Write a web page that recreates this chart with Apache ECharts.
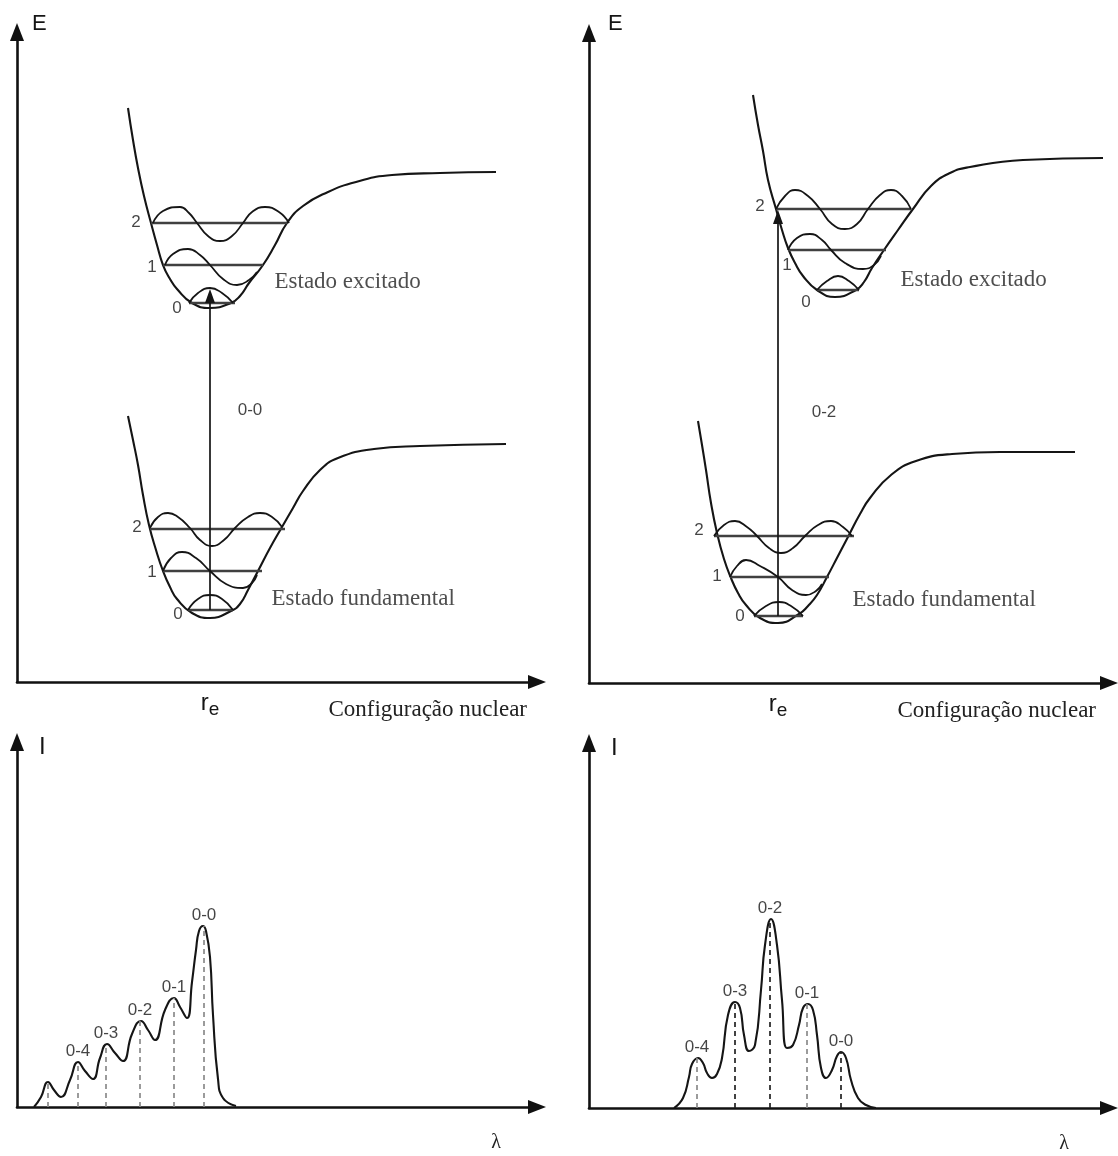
<!DOCTYPE html>
<html><head><meta charset="utf-8">
<script src="https://cdn.jsdelivr.net/npm/echarts@6/dist/echarts.min.js"></script>
<style>html,body{margin:0;padding:0;background:#fff}#chart{width:1118px;height:1156px}</style>
</head><body><div id="chart"></div>
<script>
// ---------- Top-left panel: 0-0 transition (x: nuclear configuration, y: energy) ----------
const tlExcitedCurve = [[1.11,5.74],[1.16,5.42],[1.21,5.14],[1.27,4.86],[1.34,4.59],[1.40,4.37],[1.46,4.17],[1.53,4.03],[1.60,3.93],[1.75,3.79],[1.93,3.74],[2.14,3.79],[2.23,3.86],[2.32,3.99],[2.46,4.17],[2.58,4.37],[2.70,4.59],[2.86,4.76],[3.11,4.90],[3.39,5.00],[3.75,5.07],[4.23,5.09],[4.79,5.10]];
const tlGroundCurve = [[1.11,2.66],[1.16,2.42],[1.21,2.17],[1.26,1.87],[1.32,1.57],[1.39,1.32],[1.46,1.11],[1.53,0.95],[1.60,0.83],[1.75,0.69],[1.93,0.64],[2.14,0.71],[2.23,0.78],[2.31,0.92],[2.41,1.11],[2.53,1.34],[2.65,1.55],[2.76,1.74],[2.86,1.91],[3.03,2.12],[3.21,2.24],[3.57,2.33],[4.03,2.36],[4.89,2.38]];
const tlExcitedLevelE = [3.79, 4.17, 4.59];
const tlExcitedTurnLeft = [1.72, 1.46, 1.34];
const tlExcitedTurnRight = [2.18, 2.46, 2.70];
const tlGroundLevelE = [0.72, 1.11, 1.53];
const tlGroundTurnLeft = [1.71, 1.46, 1.33];
const tlGroundTurnRight = [2.16, 2.45, 2.68];
const tlExcitedPsi0 = [[1.72,3.79],[1.81,3.89],[1.93,3.94],[2.05,3.89],[2.16,3.79]];
const tlExcitedPsi1 = [[1.48,4.17],[1.56,4.28],[1.71,4.33],[1.83,4.27],[1.93,4.17],[2.06,4.03],[2.20,3.97],[2.32,4.02],[2.40,4.10]];
const tlExcitedPsi2 = [[1.36,4.59],[1.46,4.71],[1.63,4.75],[1.72,4.69],[1.80,4.59],[1.91,4.46],[2.03,4.41],[2.15,4.46],[2.26,4.59],[2.35,4.70],[2.48,4.75],[2.62,4.70],[2.72,4.59]];
const tlGroundPsi0 = [[1.71,0.72],[1.81,0.83],[1.93,0.87],[2.05,0.83],[2.16,0.72]];
const tlGroundPsi1 = [[1.46,1.11],[1.54,1.24],[1.65,1.30],[1.79,1.24],[1.93,1.11],[2.09,0.98],[2.26,0.94],[2.35,0.99],[2.40,1.07]];
const tlGroundPsi2 = [[1.33,1.54],[1.41,1.65],[1.51,1.69],[1.61,1.65],[1.73,1.54],[1.83,1.42],[1.95,1.36],[2.07,1.42],[2.18,1.54],[2.31,1.65],[2.43,1.69],[2.55,1.65],[2.65,1.55]];
const tlTransition = [1.93, 0.72, 3.86];      // r_e, from, to
const tlExcitedLabelPos = [[1.60,3.74],[1.35,4.15],[1.19,4.60]];
const tlGroundLabelPos = [[1.61,0.68],[1.35,1.10],[1.20,1.55]];
const tlStateNamePos = [[2.57,4.00],[2.54,0.83]];
const tlTransitionLabel = [2.33, 2.72, '0-0'];

// ---------- Top-right panel: 0-2 transition ----------
const trExcitedCurve = [[1.64,5.88],[1.69,5.58],[1.74,5.32],[1.79,5.03],[1.87,4.74],[1.93,4.53],[1.99,4.35],[2.06,4.20],[2.14,4.07],[2.28,3.93],[2.46,3.86],[2.67,3.93],[2.75,4.01],[2.83,4.15],[2.95,4.33],[3.09,4.53],[3.24,4.74],[3.42,4.97],[3.61,5.10],[3.81,5.16],[4.34,5.23],[5.14,5.25]];
const trGroundCurve = [[1.09,2.62],[1.13,2.38],[1.17,2.13],[1.22,1.80],[1.28,1.50],[1.35,1.24],[1.42,1.05],[1.49,0.90],[1.57,0.78],[1.71,0.65],[1.89,0.60],[2.10,0.69],[2.19,0.77],[2.28,0.88],[2.38,1.06],[2.49,1.27],[2.60,1.48],[2.71,1.69],[2.81,1.85],[3.02,2.08],[3.27,2.22],[3.63,2.29],[4.11,2.31],[4.86,2.31]];
const trExcitedLevelE = [3.93, 4.33, 4.74];
const trExcitedTurnLeft = [2.28, 1.99, 1.87];
const trExcitedTurnRight = [2.70, 2.97, 3.22];
const trGroundLevelE = [0.67, 1.06, 1.47];
const trGroundTurnLeft = [1.65, 1.41, 1.25];
const trGroundTurnRight = [2.14, 2.40, 2.65];
const trExcitedPsi0 = [[2.28,3.93],[2.38,4.02],[2.49,4.07],[2.60,4.02],[2.70,3.93]];
const trExcitedPsi1 = [[1.99,4.33],[2.08,4.45],[2.21,4.49],[2.33,4.43],[2.42,4.33],[2.56,4.20],[2.74,4.14],[2.85,4.18],[2.92,4.27]];
const trExcitedPsi2 = [[1.87,4.74],[1.96,4.87],[2.06,4.93],[2.19,4.87],[2.31,4.74],[2.43,4.59],[2.56,4.54],[2.68,4.59],[2.79,4.74],[2.91,4.88],[3.02,4.93],[3.13,4.87],[3.22,4.74]];
const trGroundPsi0 = [[1.65,0.67],[1.77,0.77],[1.90,0.81],[2.02,0.77],[2.14,0.67]];
const trGroundPsi1 = [[1.41,1.06],[1.48,1.17],[1.57,1.23],[1.71,1.17],[1.89,1.06],[2.03,0.93],[2.17,0.88],[2.27,0.92],[2.33,0.99]];
const trGroundPsi2 = [[1.25,1.47],[1.35,1.58],[1.46,1.62],[1.58,1.56],[1.68,1.47],[1.80,1.35],[1.92,1.30],[2.04,1.35],[2.16,1.47],[2.29,1.58],[2.42,1.62],[2.54,1.56],[2.63,1.47]];
const trTransition = [1.89, 0.67, 4.66];
const trExcitedLabelPos = [[2.17,3.81],[1.98,4.18],[1.71,4.77]];
const trGroundLabelPos = [[1.51,0.67],[1.28,1.07],[1.10,1.53]];
const trStateNamePos = [[3.11,4.03],[2.63,0.83]];
const trTransitionLabel = [2.35, 2.71, '0-2'];

const levelNames = ['0', '1', '2'];
const stateNames = ['Estado excitado', 'Estado fundamental'];

// ---------- Bottom panels: spectra (x: wavelength, y: intensity) ----------
const blSpectrum = [[0.17,0.00],[0.24,0.10],[0.31,0.25],[0.37,0.17],[0.44,0.10],[0.53,0.27],[0.61,0.45],[0.68,0.36],[0.76,0.28],[0.83,0.49],[0.90,0.63],[0.98,0.54],[1.06,0.46],[1.15,0.73],[1.24,0.86],[1.31,0.77],[1.38,0.67],[1.48,0.97],[1.57,1.09],[1.63,1.00],[1.70,0.89],[1.75,1.25],[1.79,1.57],[1.82,1.76],[1.86,1.81],[1.89,1.76],[1.93,1.50],[1.96,0.92],[2.01,0.28],[2.06,0.09],[2.19,0.01]];
const blBandPos = [0.31, 0.61, 0.89, 1.23, 1.57, 1.87];
const blBandI = [0.25, 0.45, 0.63, 0.86, 1.09, 1.81];
const blBandNames = ['', '0-4', '0-3', '0-2', '0-1', '0-0'];

const brSpectrum = [[0.85,0.00],[0.94,0.10],[1.00,0.31],[1.03,0.44],[1.09,0.50],[1.14,0.45],[1.18,0.35],[1.23,0.30],[1.28,0.34],[1.33,0.50],[1.39,0.93],[1.46,1.06],[1.51,1.00],[1.55,0.73],[1.60,0.57],[1.66,0.63],[1.72,1.18],[1.76,1.63],[1.82,1.89],[1.88,1.63],[1.93,1.08],[1.98,0.60],[2.04,0.63],[2.10,0.83],[2.14,1.00],[2.19,1.04],[2.24,0.98],[2.28,0.73],[2.32,0.40],[2.37,0.30],[2.43,0.38],[2.48,0.52],[2.52,0.56],[2.57,0.50],[2.62,0.28],[2.69,0.10],[2.77,0.03],[2.87,0.00]];
const brBandPos = [1.08, 1.46, 1.81, 2.18, 2.52];
const brBandI = [0.50, 1.06, 1.89, 1.04, 0.56];
const brBandNames = ['0-4', '0-3', '0-2', '0-1', '0-0'];
const brBandDark = [false, true, true, false, true];

// ---------- styling / building ----------
const SANS = "'Liberation Sans', Arial, sans-serif";
const SERIF = "'Liberation Serif', 'Times New Roman', serif";
const INK = '#151515';

function line(gi, data, opts) {
  return Object.assign({
    type: 'line', xAxisIndex: gi, yAxisIndex: gi, data: data, symbol: 'none',
    smooth: 0.5, silent: true, animation: false, z: 3,
    lineStyle: { color: INK, width: 2.1 }, emphasis: { disabled: true }
  }, opts || {});
}
function texts(gi, pts, fontSize, family, position, color) {
  return {
    type: 'scatter', xAxisIndex: gi, yAxisIndex: gi, data: pts, symbolSize: 1,
    itemStyle: { color: 'rgba(0,0,0,0)' }, silent: true, animation: false, z: 5,
    label: { show: true, position: position || 'inside', distance: 0, formatter: p => p.value[2],
      fontSize: fontSize, fontFamily: family, color: color || INK }
  };
}
function levels(gi, E, L, R) {
  return E.map((e, i) => line(gi, [[L[i], e], [R[i], e]], { smooth: false, lineStyle: { color: '#404040', width: 2.4 } }));
}
function withText(pos, names) { return pos.map((p, i) => [p[0], p[1], names[i]]); }

function energyPanel(gi, P) {
  const s = [];
  s.push(line(gi, P.excited));
  s.push(line(gi, P.ground, {
    markLine: {
      silent: true, animation: false, symbol: ['none', 'triangle'], symbolSize: [10, 14],
      label: { show: false }, lineStyle: { type: 'solid', color: INK, width: 1.7 },
      emphasis: { disabled: true },
      data: [[{ coord: [P.tr[0], P.tr[1]] }, { coord: [P.tr[0], P.tr[2]] }]]
    }
  }));
  s.push(...levels(gi, P.eE, P.eL, P.eR));
  s.push(...levels(gi, P.gE, P.gL, P.gR));
  P.psi.forEach(d => s.push(line(gi, d, { lineStyle: { color: INK, width: 1.8 } })));
  s.push(texts(gi, withText(P.eLab, levelNames).concat(withText(P.gLab, levelNames)), 17, SANS));
  s.push(texts(gi, withText(P.names, stateNames), 23, SERIF, 'right', '#222'));
  s.push(texts(gi, [P.trLab], 17, SANS));
  return s;
}
function spectrumPanel(gi, spec, pos, I, names, dark) {
  const s = [];
  s.push(line(gi, spec, {
    lineStyle: { color: INK, width: 2.1 },
    markLine: {
      silent: true, animation: false, symbol: ['none', 'none'], label: { show: false },
      emphasis: { disabled: true },
      data: pos.map((x, i) => [
        { coord: [x, 0], lineStyle: { type: [5, 4], width: 1.7, color: dark && dark[i] ? '#222' : '#8a8a8a' } },
        { coord: [x, I[i]] }])
    }
  }));
  const lab = pos.map((x, i) => [x, I[i], names[i]]).filter(d => d[2]);
  const t = texts(gi, lab, 17, SANS, 'top');
  t.label.distance = 2;
  s.push(t);
  return s;
}

const reRich = {
  r: { fontSize: 24, fontFamily: SANS, color: INK },
  s: { fontSize: 19, fontFamily: SANS, color: INK, padding: [12, 0, 0, 0] }
};
function xAxis(gi, max, name, nameGap, nameStyle, re) {
  return {
    gridIndex: gi, type: 'value', min: 0, max: max, name: name, nameLocation: 'end', nameGap: nameGap,
    nameTextStyle: Object.assign({ color: '#222', align: 'right', verticalAlign: 'top' }, nameStyle),
    axisLine: { show: true, onZero: false, symbol: ['none', 'triangle'], symbolSize: [14, 18], lineStyle: { color: '#111', width: 2.6 } },
    axisTick: { show: false }, splitLine: { show: false },
    axisLabel: re == null ? { show: false } : { show: true, customValues: [re], margin: 6, formatter: () => '{r|r}{s|e}', rich: reRich }
  };
}
function yAxis(gi, max, name, nameGap, nameStyle) {
  return {
    gridIndex: gi, type: 'value', min: 0, max: max, name: name, nameLocation: 'end', nameGap: nameGap,
    nameTextStyle: Object.assign({ color: INK, align: 'left', verticalAlign: 'middle', fontFamily: SANS }, nameStyle),
    axisLine: { show: true, onZero: false, symbol: ['none', 'triangle'], symbolSize: [14, 18], lineStyle: { color: '#111', width: 2.6 } },
    axisTick: { show: false }, splitLine: { show: false }, axisLabel: { show: false }
  };
}

const topName = { fontFamily: SERIF, fontSize: 23, padding: [16, 0, 0, 0] };
const lamName = { fontFamily: SERIF, fontSize: 20, padding: [26, 0, 0, 0] };

const option = {
  backgroundColor: '#fff',
  animation: false,
  grid: [
    { left: 17, top: 32, width: 520, height: 650, outerBoundsMode: 'none', containLabel: false },
    { left: 589, top: 33, width: 520, height: 650, outerBoundsMode: 'none', containLabel: false },
    { left: 17, top: 742, width: 520, height: 365, outerBoundsMode: 'none', containLabel: false },
    { left: 589, top: 743, width: 520, height: 365, outerBoundsMode: 'none', containLabel: false }
  ],
  xAxis: [
    xAxis(0, 5.2, 'Configuração nuclear', -10, topName, tlTransition[0]),
    xAxis(1, 5.2, 'Configuração nuclear', -13, topName, trTransition[0]),
    xAxis(2, 5.2, 'λ', -36, lamName, null),
    xAxis(3, 5.2, 'λ', -40, lamName, null)
  ],
  yAxis: [
    yAxis(0, 6.5, 'E', 8, { fontSize: 22, padding: [0, 0, 0, 15] }),
    yAxis(1, 6.5, 'E', 9, { fontSize: 22, padding: [0, 0, 0, 19] }),
    yAxis(2, 3.65, 'I', -5, { fontSize: 24, padding: [0, 0, 0, 22] }),
    yAxis(3, 3.65, 'I', -5, { fontSize: 24, padding: [0, 0, 0, 22] })
  ],
  series: [].concat(
    energyPanel(0, { excited: tlExcitedCurve, ground: tlGroundCurve, tr: tlTransition,
      eE: tlExcitedLevelE, eL: tlExcitedTurnLeft, eR: tlExcitedTurnRight,
      gE: tlGroundLevelE, gL: tlGroundTurnLeft, gR: tlGroundTurnRight,
      psi: [tlExcitedPsi0, tlExcitedPsi1, tlExcitedPsi2, tlGroundPsi0, tlGroundPsi1, tlGroundPsi2],
      eLab: tlExcitedLabelPos, gLab: tlGroundLabelPos, names: tlStateNamePos, trLab: tlTransitionLabel }),
    energyPanel(1, { excited: trExcitedCurve, ground: trGroundCurve, tr: trTransition,
      eE: trExcitedLevelE, eL: trExcitedTurnLeft, eR: trExcitedTurnRight,
      gE: trGroundLevelE, gL: trGroundTurnLeft, gR: trGroundTurnRight,
      psi: [trExcitedPsi0, trExcitedPsi1, trExcitedPsi2, trGroundPsi0, trGroundPsi1, trGroundPsi2],
      eLab: trExcitedLabelPos, gLab: trGroundLabelPos, names: trStateNamePos, trLab: trTransitionLabel }),
    spectrumPanel(2, blSpectrum, blBandPos, blBandI, blBandNames, null),
    spectrumPanel(3, brSpectrum, brBandPos, brBandI, brBandNames, brBandDark)
  )
};
const chart = echarts.init(document.getElementById('chart'), null, { renderer: 'canvas' });
chart.setOption(option);
</script></body></html>
